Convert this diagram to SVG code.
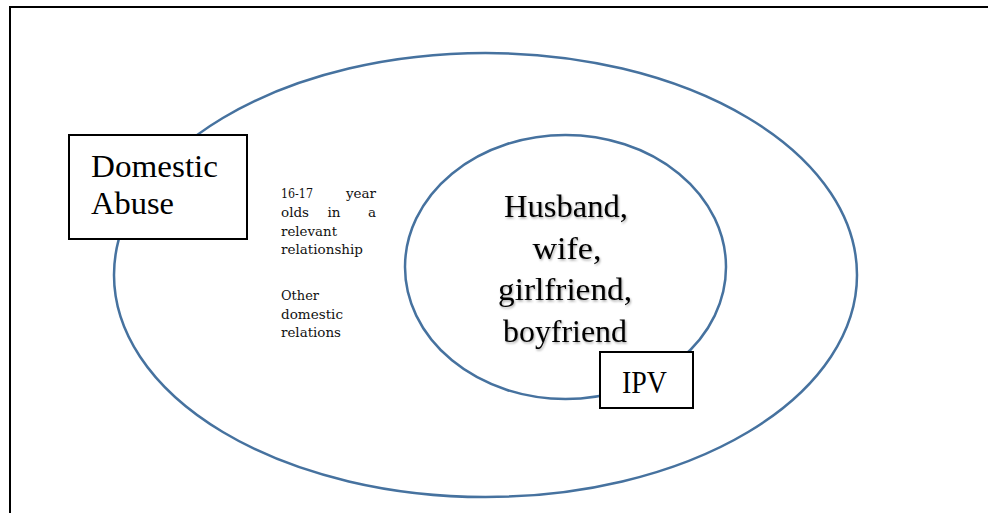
<svg xmlns="http://www.w3.org/2000/svg" width="988" height="513" viewBox="0 0 988 513">
<defs>
<filter id="shadow" x="-10%" y="-10%" width="120%" height="130%">
<feDropShadow dx="1" dy="1.5" stdDeviation="0.8" flood-color="#000" flood-opacity="0.35"/>
</filter>
</defs>
<style>
.ell{fill:none;stroke:#46729f;stroke-width:2.5}
.box{fill:#fff;stroke:#000;stroke-width:2}
.big{font-family:"Liberation Serif","Times New Roman",serif;font-size:32px;fill:#000}
.mid{font-family:"Liberation Serif","Times New Roman",serif;font-size:31px;fill:#000;text-anchor:middle}
.small{font-family:"DejaVu Serif","Liberation Serif",serif;font-size:13.5px;fill:#111}
</style>
<rect width="988" height="513" fill="#fff"/>
<path d="M10,513 V7 H990" fill="none" stroke="#000" stroke-width="2"/>
<g id="connectors"></g>
<g id="outer">
<ellipse class="ell" cx="485.5" cy="275" rx="371.5" ry="222"/>
</g>
<g id="inner">
<ellipse class="ell" cx="565.5" cy="267" rx="160.5" ry="132"/>
<g filter="url(#shadow)">
<text class="mid" x="566" y="217" textLength="124" lengthAdjust="spacingAndGlyphs">Husband,</text>
<text class="mid" x="567" y="259" textLength="69" lengthAdjust="spacingAndGlyphs">wife,</text>
<text class="mid" x="565" y="300" textLength="134" lengthAdjust="spacingAndGlyphs">girlfriend,</text>
<text class="mid" x="565" y="342" textLength="124" lengthAdjust="spacingAndGlyphs">boyfriend</text>
</g>
</g>
<g id="domestic-abuse">
<rect class="box" x="69" y="135" width="178" height="104"/>
<text class="big" x="91" y="177" textLength="127" lengthAdjust="spacingAndGlyphs">Domestic</text>
<text class="big" x="91" y="214" textLength="83" lengthAdjust="spacingAndGlyphs">Abuse</text>
</g>
<g id="ipv">
<rect class="box" x="600" y="352" width="93" height="56"/>
<text class="big" x="622" y="393" textLength="45" lengthAdjust="spacingAndGlyphs">IPV</text>
</g>
<g id="labels">
<text class="small" y="198"><tspan x="281" textLength="32" lengthAdjust="spacingAndGlyphs">16-17</tspan><tspan x="376" text-anchor="end">year</tspan></text>
<text class="small" y="217"><tspan x="281">olds</tspan><tspan x="334" text-anchor="middle">in</tspan><tspan x="376" text-anchor="end">a</tspan></text>
<text class="small" x="281" y="236" textLength="56" lengthAdjust="spacingAndGlyphs">relevant</text>
<text class="small" x="281" y="254" textLength="82" lengthAdjust="spacingAndGlyphs">relationship</text>
<text class="small" x="281" y="300" textLength="38" lengthAdjust="spacingAndGlyphs">Other</text>
<text class="small" x="281" y="319" textLength="62" lengthAdjust="spacingAndGlyphs">domestic</text>
<text class="small" x="281" y="337" textLength="60" lengthAdjust="spacingAndGlyphs">relations</text>
</g>
</svg>
